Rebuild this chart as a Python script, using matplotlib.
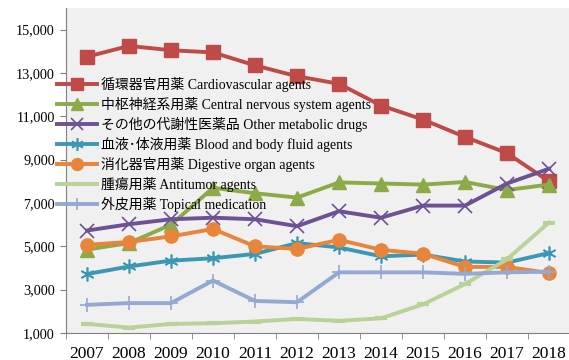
import matplotlib
matplotlib.use("Agg")
import matplotlib.pyplot as plt
import numpy as np

plt.rcParams['font.family'] = ['Liberation Serif', 'Noto Sans CJK JP']

# 年次
years = ["2007", "2008", "2009", "2010", "2011", "2012",
         "2013", "2014", "2015", "2016", "2017", "2018"]

# 各薬効群の値
cardio = [13750, 14250, 14050, 13950, 13350, 12850, 12500, 11500, 10850, 10050, 9300, 8000]
cns = [4850, 5150, 6000, 7700, 7450, 7250, 7950, 7900, 7850, 7970, 7600, 7850]
metabolic = [5730, 6020, 6250, 6320, 6250, 5930, 6620, 6320, 6880, 6880, 7900, 8580]
blood = [3720, 4070, 4340, 4450, 4650, 5150, 4950, 4540, 4620, 4300, 4250, 4690]
digestive = [5070, 5200, 5460, 5800, 5000, 4880, 5300, 4840, 4660, 4050, 4050, 3770]
antitumor = [1420, 1250, 1420, 1450, 1530, 1650, 1560, 1680, 2320, 3260, 4400, 6100]
topical = [2300, 2380, 2380, 3420, 2480, 2420, 3800, 3800, 3800, 3730, 3800, 3830]

labels = ["循環器官用薬 Cardiovascular agents",
          "中枢神経系用薬 Central nervous system agents",
          "その他の代謝性医薬品 Other metabolic drugs",
          "血液･体液用薬 Blood and body fluid agents",
          "消化器官用薬 Digestive organ agents",
          "腫瘍用薬 Antitumor agents",
          "外皮用薬 Topical medication"]

series = [cardio, cns, metabolic, blood, digestive, antitumor, topical]
colors = ["#BE4B48", "#8CAB48", "#6E5193", "#3C98B2", "#E9853A", "#B9D298", "#93A9D2"]
markers = ["s", "^", "x", (6, 2, 0), "o", "_", "+"]
msizes = [9.5, 9.5, 10, 10, 9.5, 8, 10]
mews = [1, 1, 1.2, 1.2, 1, 3, 1.2]

fig = plt.figure(figsize=(5.69, 3.6), dpi=100)
ax = fig.add_axes([66 / 569, 27 / 360, 504 / 569, 325 / 360])
ax.set_facecolor("#F0F0F0")

x = np.arange(len(years))
for vals, lab, c, m, ms, mew in zip(series, labels, colors, markers, msizes, mews):
    ax.plot(x, vals, color=c, lw=2.8, marker=m, markersize=ms,
            markeredgewidth=mew, markeredgecolor=c, markerfacecolor=c, label=lab)

ax.set_xlim(-0.5, len(years) - 0.5)
ax.set_ylim(1000, 16000)
ax.set_yticks(np.arange(1000, 16000, 2000))
ax.set_yticklabels([f"{v:,}" for v in range(1000, 16000, 2000)], fontsize=10.2)

ax.set_xticks(x)
ax.set_xticklabels(years, fontsize=12.5)
ax.set_xticks(np.arange(-0.5, len(years), 1), minor=True)
ax.tick_params(axis='x', which='major', length=0, pad=9)
ax.tick_params(axis='x', which='minor', length=4, color="#808080")
ax.tick_params(axis='y', length=4, color="#808080", pad=4)

for s in ["top", "right"]:
    ax.spines[s].set_visible(False)
for s in ["left", "bottom"]:
    ax.spines[s].set_color("#808080")

ax.legend(loc="upper left", bbox_to_anchor=(57 / 569, 1 - 77 / 360),
          bbox_transform=fig.transFigure, frameon=False, fontsize=10,
          borderpad=0, borderaxespad=0, handlelength=2.9, handletextpad=0.25,
          labelspacing=0.36, markerscale=0.9)

fig.savefig("out.png", dpi=100)
